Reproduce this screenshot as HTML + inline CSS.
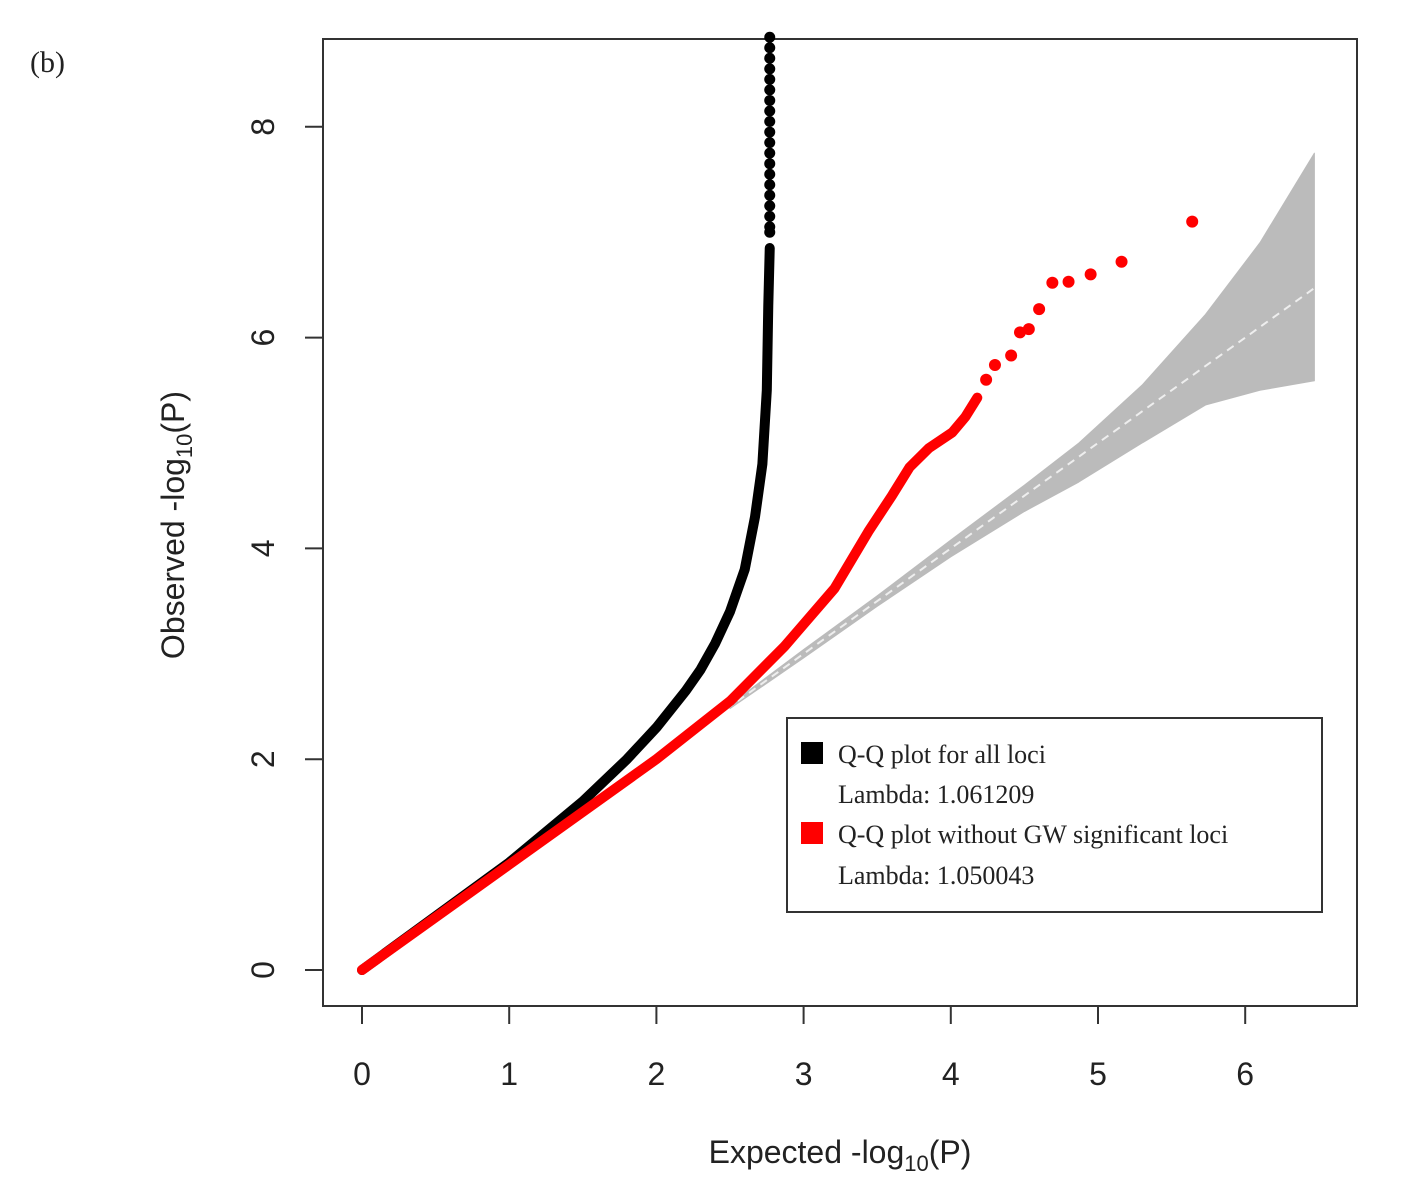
<!DOCTYPE html>
<html><head><meta charset="utf-8"><style>
body{margin:0;background:#fff;}
svg{display:block;}
</style></head><body>
<svg id="chart" width="1403" height="1195" xmlns="http://www.w3.org/2000/svg">
<text x="30" y="72" font-family="Liberation Serif, serif" font-size="30" fill="#222">(b)</text>
<rect x="323" y="39" width="1034" height="967" fill="none" stroke="#333" stroke-width="2"/>
<g id="band"></g>
<g id="marks"></g>
<g id="axes"></g>
<g>
<rect x="787" y="718" width="535" height="194" fill="#fff" stroke="#333" stroke-width="2"/>
<rect x="801" y="742" width="22" height="22" fill="#000"/>
<text x="838" y="763" font-family="Liberation Serif, serif" font-size="26" fill="#222">Q-Q plot for all loci</text>
<text x="838" y="803" font-family="Liberation Serif, serif" font-size="26" fill="#222">Lambda: 1.061209</text>
<rect x="801" y="822" width="22" height="22" fill="#f00"/>
<text x="838" y="843" font-family="Liberation Serif, serif" font-size="26" fill="#222">Q-Q plot without GW significant loci</text>
<text x="838" y="884" font-family="Liberation Serif, serif" font-size="26" fill="#222">Lambda: 1.050043</text>
</g>
<text x="840" y="1163" text-anchor="middle" font-family="Liberation Sans, sans-serif" font-size="32" fill="#222">Expected -log<tspan font-size="22" dy="8">10</tspan><tspan dy="-8">(P)</tspan></text>
<text transform="translate(184,525) rotate(-90)" text-anchor="middle" font-family="Liberation Sans, sans-serif" font-size="32" fill="#222">Observed -log<tspan font-size="22" dy="8">10</tspan><tspan dy="-8">(P)</tspan></text>
</svg>
<script>
const xTicks=[0,1,2,3,4,5,6];
const yTicks=[0,2,4,6,8];
const blackX=[0,1,1.5,1.8,2.0,2.2,2.3,2.4,2.5,2.6,2.67,2.72,2.75,2.76,2.77];
const blackY=[0,1.02,1.6,2.0,2.3,2.65,2.85,3.1,3.4,3.8,4.3,4.8,5.5,6.3,6.85];
const blackTopY=[7.0,7.05,7.15,7.25,7.35,7.45,7.55,7.65,7.75,7.85,7.95,8.05,8.15,8.25,8.35,8.45,8.55,8.65,8.75,8.85];
const redX=[0,1,2,2.5,2.87,3.21,3.44,3.6,3.72,3.85,4.01,4.1,4.18];
const redY=[0,1,2,2.55,3.07,3.62,4.16,4.5,4.77,4.95,5.1,5.25,5.43];
const redTopX=[4.24,4.3,4.41,4.47,4.53,4.6,4.69,4.8,4.95,5.16,5.64];
const redTopY=[5.6,5.74,5.83,6.05,6.08,6.27,6.52,6.53,6.6,6.72,7.1];
const bandX=[2.5,3,3.5,4,4.5,4.87,5.3,5.73,6.1,6.47];
const bandUpper=[2.52,3.04,3.55,4.08,4.6,5.0,5.55,6.22,6.9,7.75];
const bandLower=[2.48,2.96,3.45,3.92,4.35,4.63,5.0,5.36,5.5,5.59];
const NS='http://www.w3.org/2000/svg';
const sx=v=>362+v*147.2, sy=v=>970-v*105.4;
function mk(t,a,p){const e=document.createElementNS(NS,t);for(const k in a)e.setAttribute(k,a[k]);p.appendChild(e);return e;}
const band=document.getElementById('band'),marks=document.getElementById('marks'),axes=document.getElementById('axes');
let d='M'+bandX.map((x,i)=>sx(x)+','+sy(bandUpper[i])).join('L');
for(let i=bandX.length-1;i>=0;i--)d+='L'+sx(bandX[i])+','+sy(bandLower[i]);
const bp=mk('path',{d:d+'Z',fill:'#bbb','stroke':'#bbb','stroke-linejoin':'round'},band);


const dl=mk('line',{x1:sx(0),y1:sy(0),x2:sx(6.47),y2:sy(6.47),stroke:'#eee','stroke-width':2,'stroke-dasharray':'8,6'},band);


const bl=mk('polyline',{points:blackX.map((x,i)=>sx(x)+','+sy(blackY[i])).join(' '),fill:'none',stroke:'#000','stroke-width':10,'stroke-linejoin':'round','stroke-linecap':'round'},marks);


blackTopY.forEach(y=>{const c=mk('circle',{cx:sx(2.77),cy:sy(y),r:5.5,fill:'#000'},marks);

});
const rl=mk('polyline',{points:redX.map((x,i)=>sx(x)+','+sy(redY[i])).join(' '),fill:'none',stroke:'#f00','stroke-width':10,'stroke-linejoin':'round','stroke-linecap':'round'},marks);


redTopX.forEach((x,i)=>{const c=mk('circle',{cx:sx(x),cy:sy(redTopY[i]),r:6,fill:'#f00'},marks);

});
xTicks.forEach(v=>{mk('line',{x1:sx(v),y1:1006,x2:sx(v),y2:1024,stroke:'#333','stroke-width':2},axes);
const t=mk('text',{x:sx(v),y:1085,'text-anchor':'middle','font-family':'Liberation Sans, sans-serif','font-size':32,fill:'#222'},axes);t.textContent=v;

});
yTicks.forEach(v=>{mk('line',{x1:305,y1:sy(v),x2:323,y2:sy(v),stroke:'#333','stroke-width':2},axes);
const t=mk('text',{transform:`translate(274,${sy(v)}) rotate(-90)`,'text-anchor':'middle','font-family':'Liberation Sans, sans-serif','font-size':32,fill:'#222'},axes);t.textContent=v;

});
</script>
</body></html>
